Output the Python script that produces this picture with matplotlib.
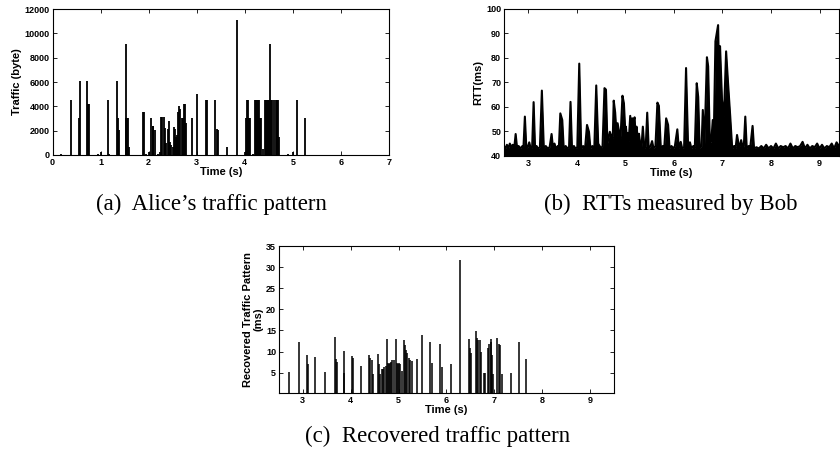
import matplotlib
matplotlib.use('Agg')
import matplotlib.pyplot as plt

# (a) Alice's traffic pattern: packet times (s) and sizes (byte)
alice_t = [0.17, 0.385, 0.55, 0.57, 0.725, 0.745, 0.766, 0.94, 1.0, 1.155, 1.175,
           1.335, 1.355, 1.377, 1.52, 1.536, 1.557, 1.578, 1.6, 1.875, 1.9, 1.94, 2.0,
           2.056, 2.084, 2.1, 2.13, 2.2, 2.236, 2.26, 2.285, 2.31, 2.33, 2.35, 2.37,
           2.41, 2.43, 2.45, 2.47, 2.5, 2.52, 2.54, 2.56, 2.58, 2.62, 2.64, 2.66, 2.69,
           2.71, 2.74, 2.76, 2.78, 2.91, 3.0, 3.19, 3.21, 3.39, 3.415, 3.435, 3.62, 3.83,
           4.0, 4.025, 4.04, 4.06, 4.08, 4.1, 4.18, 4.22, 4.24, 4.26, 4.28, 4.3, 4.32,
           4.34, 4.37, 4.43, 4.45, 4.47, 4.49, 4.51, 4.53, 4.55, 4.57, 4.61, 4.64, 4.66,
           4.68, 4.7, 4.72, 4.905, 4.995, 5.08, 5.25]
alice_bytes = [80, 4530, 3000, 6100, 6100, 4200, 4200, 80, 220, 4530, 80,
               6100, 3000, 2060, 3000, 9100, 3000, 3000, 690, 3500, 3500, 80, 220,
               3000, 2400, 2400, 2060, 80, 220, 3150, 3150, 3150, 2200, 1000, 1000,
               2100, 2800, 1100, 800, 690, 2300, 2100, 1500, 1600, 3500, 4000, 3800, 3000,
               3000, 4200, 4200, 2600, 3000, 5000, 4530, 4530, 4530, 2100, 2060, 690, 11100,
               220, 3000, 4530, 4530, 3000, 3000, 80, 4530, 4530, 4530, 4530, 4530, 3000,
               3000, 500, 4530, 4530, 4530, 4530, 4530, 9100, 4530, 4530, 4530, 4530, 4530,
               4530, 4530, 1500, 80, 220, 4530, 3000]

# (b) RTTs measured by Bob
rtt_t = [2.50, 2.53, 2.56, 2.59, 2.62, 2.65, 2.68, 2.71, 2.74, 2.77, 2.80, 2.84, 2.88,
         2.90, 2.93, 2.96, 2.99, 3.02, 3.05, 3.08, 3.11, 3.14, 3.17, 3.20, 3.24, 3.28,
         3.32, 3.36, 3.40, 3.44, 3.48, 3.51, 3.54, 3.57, 3.61, 3.63, 3.66, 3.70, 3.73,
         3.77, 3.81, 3.84, 3.87, 3.90, 3.94, 3.97, 4.01, 4.05, 4.09, 4.13, 4.17, 4.21,
         4.25, 4.28, 4.32, 4.36, 4.40, 4.44, 4.47, 4.50, 4.53, 4.57, 4.60, 4.63, 4.66,
         4.68, 4.71, 4.74, 4.76, 4.79, 4.82, 4.84, 4.87, 4.90, 4.94, 4.97, 5.00, 5.01,
         5.03, 5.05, 5.07, 5.10, 5.12, 5.14, 5.155, 5.17, 5.19, 5.21, 5.23, 5.26, 5.28,
         5.31, 5.33, 5.36, 5.39, 5.42, 5.45, 5.48, 5.52, 5.55, 5.58, 5.62, 5.66, 5.69,
         5.73, 5.77, 5.80, 5.84, 5.88, 5.91, 5.95, 5.99, 6.02, 6.07, 6.10, 6.14, 6.17,
         6.21, 6.25, 6.29, 6.33, 6.36, 6.40, 6.43, 6.47, 6.50, 6.53, 6.57, 6.595, 6.63,
         6.68, 6.705, 6.74, 6.77, 6.80, 6.82, 6.855, 6.91, 6.93, 6.95, 6.99, 7.03, 7.075,
         7.115, 7.16, 7.20, 7.24, 7.27, 7.30, 7.33, 7.36, 7.385, 7.42, 7.44, 7.47, 7.50,
         7.54, 7.57, 7.62, 7.65, 7.70, 7.75, 7.80, 7.85, 7.90, 7.95, 8.00, 8.05, 8.10,
         8.15, 8.20, 8.25, 8.30, 8.35, 8.40, 8.45, 8.50, 8.55, 8.60, 8.65, 8.70, 8.75,
         8.80, 8.85, 8.90, 8.95, 9.00, 9.05, 9.10, 9.15, 9.20, 9.25, 9.30, 9.35, 9.40]
rtt_ms = [44, 43, 44.5, 43, 45, 43.5, 44.5, 43, 48.9, 43, 44, 43, 44,
          43, 56, 43, 43.5, 45.5, 43, 43.5, 61.9, 43, 44, 43, 43.5, 66.6,
          43, 44, 43, 43.5, 48.9, 43, 45, 43, 44, 43, 57.3, 54.6, 43,
          44, 43, 43.5, 62, 43, 44, 43, 43.5, 77.6, 43, 44, 43, 52.6,
          49.8, 43, 44, 43, 68.7, 45, 44, 43, 44, 67.6, 67, 45, 48,
          49.8, 48, 47, 62.5, 57.6, 48, 53.3, 49.8, 47, 64.5, 61.4, 49, 51.9,
          48, 49.2, 46, 56.3, 48, 55.3, 49, 54.3, 55.7, 48, 51.9, 46, 49,
          44, 43, 51.9, 43, 44, 57.6, 43, 44, 46, 43, 44, 61.7, 60.4,
          43, 44, 43, 55.3, 52.6, 43, 44, 43, 44, 50.8, 43, 45.7, 43,
          43.5, 75.8, 45, 45.5, 43, 44, 43, 69.6, 64, 43, 44, 58.7, 45,
          80.2, 76.5, 45, 46, 54.6, 46, 86.7, 93.3, 72, 84.7, 62.8, 56, 82.6,
          69.6, 56, 43, 44, 43, 48.5, 45, 44, 46.4, 43, 44, 56, 43,
          44, 43, 52.2, 43, 43.5, 43, 44, 43, 44.5, 43, 44, 43, 45,
          43, 44, 43.5, 44, 43, 45, 43, 44, 43.5, 44, 45.7, 43, 44.5,
          43, 44, 43.5, 45, 43, 44.5, 43, 44, 43.5, 45, 43, 45.5, 44]

# (c) Recovered traffic pattern
rec_t = [2.72, 2.91, 3.09, 3.11, 3.26, 3.47, 3.67, 3.69, 3.71, 3.85, 3.87, 4.03, 4.05,
         4.22, 4.39, 4.41, 4.44, 4.47, 4.57, 4.59, 4.62, 4.65, 4.68, 4.7, 4.73, 4.75,
         4.77, 4.79, 4.82, 4.84, 4.87, 4.9, 4.94, 4.96, 4.99, 5.01, 5.04, 5.07, 5.11,
         5.13, 5.16, 5.18, 5.21, 5.23, 5.27, 5.38, 5.48, 5.66, 5.69, 5.86, 5.9, 6.09,
         6.29, 6.48, 6.49, 6.51, 6.62, 6.64, 6.66, 6.7, 6.72, 6.78, 6.8, 6.87, 6.89,
         6.92, 6.94, 6.96, 6.98, 7.06, 7.09, 7.12, 7.17, 7.35, 7.51, 7.67]
rec_ms = [5.2, 12.2, 9.2, 7.1, 8.8, 5.1, 13.5, 8.2, 7.6, 10.1, 5.0, 9.0, 8.4,
          6.6, 9.1, 8.6, 8.0, 4.6, 9.4, 7.0, 4.8, 5.8, 5.8, 6.4, 6.6, 12.9,
          7.2, 7.0, 7.2, 7.6, 8.0, 8.0, 13.0, 7.4, 7.1, 7.2, 7.1, 5.4, 12.7,
          11.5, 10.4, 9.6, 8.4, 8.0, 7.8, 8.2, 13.9, 12.3, 7.2, 11.8, 6.4, 7.0,
          31.8, 13.0, 10.8, 9.7, 14.9, 13.3, 12.7, 12.7, 10.0, 5.0, 5.0, 10.8, 11.8,
          12.3, 12.9, 9.2, 4.8, 13.3, 11.8, 11.5, 4.7, 5.0, 12.3, 8.3]

sans = 'Liberation Sans'
serif = 'Liberation Serif'
plt.rcParams['font.family'] = sans
plt.rcParams['font.weight'] = 'bold'


def style(ax):
    ax.tick_params(direction='in', top=True, right=True, length=3, width=0.6,
                   labelsize=6.5, pad=2)
    for lbl in ax.get_xticklabels() + ax.get_yticklabels():
        lbl.set_fontweight('bold')
    for s in ax.spines.values():
        s.set_linewidth(0.8)
    ax.set_xlabel('Time (s)', fontsize=8, fontweight='bold', labelpad=0)


fig = plt.figure(figsize=(8.4, 4.57), dpi=100)

# (a)
ax1 = fig.add_axes([0.0625, 0.661, 0.4006, 0.319])
ax1.vlines(alice_t, 0, alice_bytes, color='k', linewidth=1.3)
ax1.set_xlim(0, 7)
ax1.set_ylim(0, 12000)
ax1.set_xticks(range(0, 8))
ax1.set_yticks(range(0, 12001, 2000))
ax1.set_ylabel('Traffic (byte)', fontsize=8, fontweight='bold', labelpad=2)
style(ax1)

# (b)
ax2 = fig.add_axes([0.6, 0.659, 0.3988, 0.322])
ax2.fill_between(rtt_t, 40, rtt_ms, color='k', linewidth=0)
ax2.plot(rtt_t, rtt_ms, color='k', linewidth=1.5)
ax2.set_xlim(2.5, 9.4)
ax2.set_ylim(40, 100)
ax2.set_xticks(range(3, 10))
ax2.set_yticks(range(40, 101, 10))
ax2.set_ylabel('RTT(ms)', fontsize=8, fontweight='bold', labelpad=2)
style(ax2)

# (c)
ax3 = fig.add_axes([0.332, 0.140, 0.399, 0.3217])
ax3.vlines(rec_t, 0, rec_ms, color='k', linewidth=1.1)
ax3.set_xlim(2.5, 9.5)
ax3.set_ylim(0.2, 35)
ax3.set_xticks(range(3, 10))
ax3.set_yticks(range(5, 36, 5))
ax3.set_ylabel('Recovered Traffic Pattern\n(ms)', fontsize=8, fontweight='bold',
               labelpad=2, linespacing=1.0)
style(ax3)

cap = dict(family=serif, fontsize=16.5, fontweight='normal', ha='center', va='center')
fig.text(211 / 840, 1 - 204 / 457, '(a)  Alice\u2019s traffic pattern', **cap)
fig.text(671 / 840, 1 - 204 / 457, '(b)  RTTs measured by Bob', **cap)
fig.text(438 / 840, 1 - 436 / 457, '(c)  Recovered traffic pattern', **cap)

fig.savefig('out.png', dpi=100)
